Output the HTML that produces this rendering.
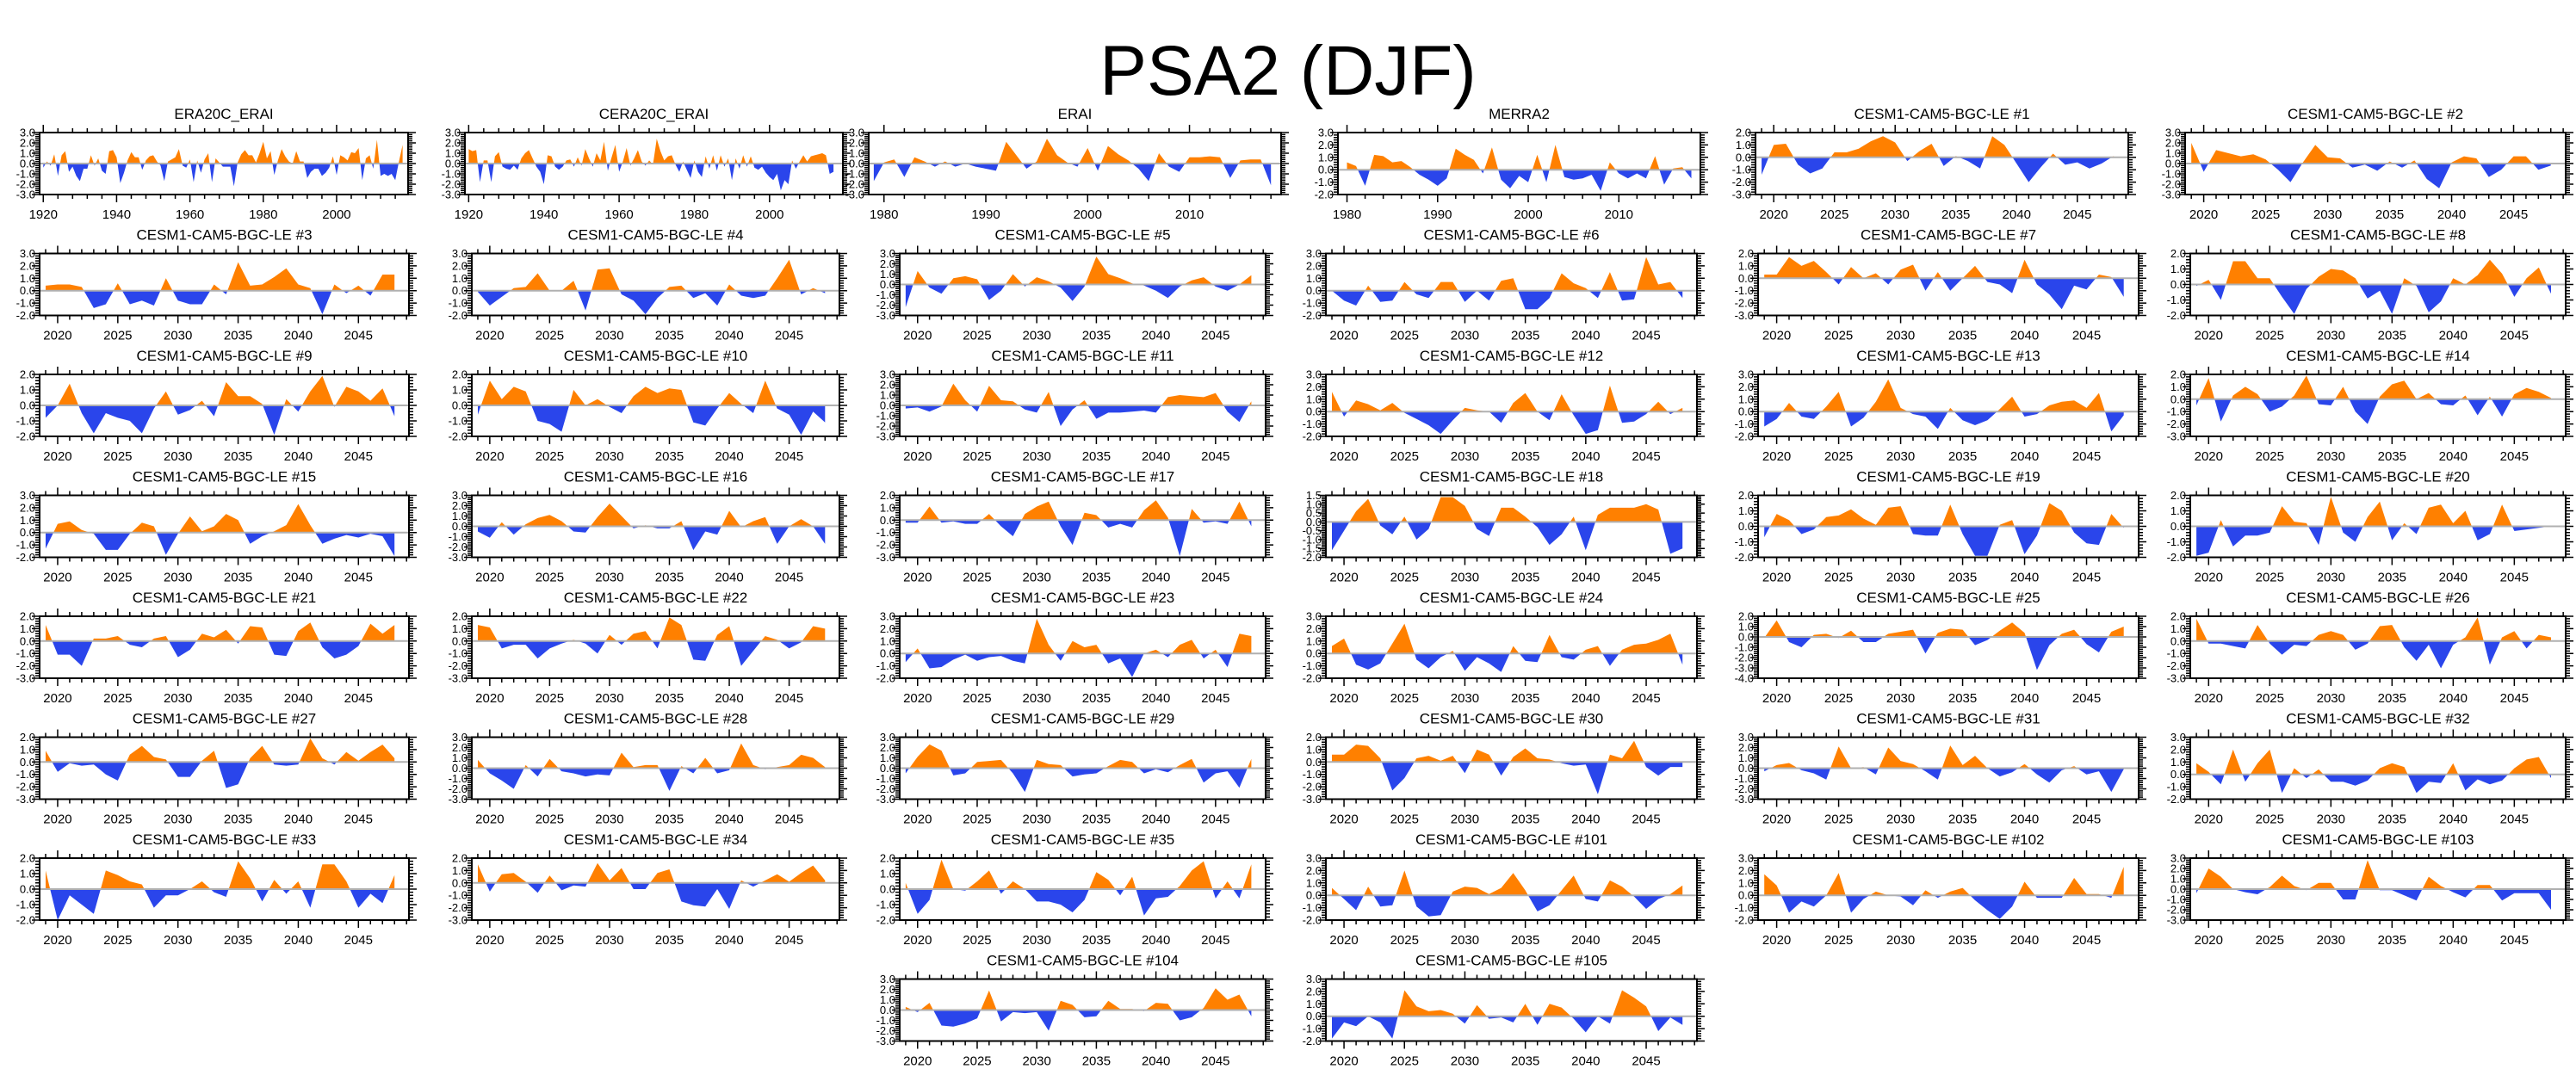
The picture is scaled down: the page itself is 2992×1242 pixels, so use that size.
<!DOCTYPE html>
<html><head><meta charset="utf-8"><title>PSA2 (DJF)</title>
<style>
html,body{margin:0;padding:0;background:#fff;}
#wrap{position:relative;width:2992px;height:1242px;overflow:hidden;font-family:"Liberation Sans",Arial,sans-serif;}
#main-title{position:absolute;left:0;width:2992px;top:38px;text-align:center;font-size:82px;line-height:90px;color:#000;}
svg{position:absolute;left:0;top:0;}
</style></head>
<body>
<div id="wrap">
<div id="main-title">PSA2 (DJF)</div>
<svg id="chart" width="2992" height="1242" xmlns="http://www.w3.org/2000/svg"></svg>
</div>
<script>
// ---- data ----
const panelTitles = ["ERA20C_ERAI","CERA20C_ERAI","ERAI","MERRA2","CESM1-CAM5-BGC-LE #1","CESM1-CAM5-BGC-LE #2",
"CESM1-CAM5-BGC-LE #3","CESM1-CAM5-BGC-LE #4","CESM1-CAM5-BGC-LE #5","CESM1-CAM5-BGC-LE #6","CESM1-CAM5-BGC-LE #7","CESM1-CAM5-BGC-LE #8",
"CESM1-CAM5-BGC-LE #9","CESM1-CAM5-BGC-LE #10","CESM1-CAM5-BGC-LE #11","CESM1-CAM5-BGC-LE #12","CESM1-CAM5-BGC-LE #13","CESM1-CAM5-BGC-LE #14",
"CESM1-CAM5-BGC-LE #15","CESM1-CAM5-BGC-LE #16","CESM1-CAM5-BGC-LE #17","CESM1-CAM5-BGC-LE #18","CESM1-CAM5-BGC-LE #19","CESM1-CAM5-BGC-LE #20",
"CESM1-CAM5-BGC-LE #21","CESM1-CAM5-BGC-LE #22","CESM1-CAM5-BGC-LE #23","CESM1-CAM5-BGC-LE #24","CESM1-CAM5-BGC-LE #25","CESM1-CAM5-BGC-LE #26",
"CESM1-CAM5-BGC-LE #27","CESM1-CAM5-BGC-LE #28","CESM1-CAM5-BGC-LE #29","CESM1-CAM5-BGC-LE #30","CESM1-CAM5-BGC-LE #31","CESM1-CAM5-BGC-LE #32",
"CESM1-CAM5-BGC-LE #33","CESM1-CAM5-BGC-LE #34","CESM1-CAM5-BGC-LE #35","CESM1-CAM5-BGC-LE #101","CESM1-CAM5-BGC-LE #102","CESM1-CAM5-BGC-LE #103",
"CESM1-CAM5-BGC-LE #104","CESM1-CAM5-BGC-LE #105"];
const startYears = [1920,1920,1979,1980,2019,2019,2019,2019,2019,2019,2019,2019,2019,2019,2019,2019,2019,2019,2019,2019,2019,2019,2019,2019,2019,2019,2019,2019,2019,2019,2019,2019,2019,2019,2019,2019,2019,2019,2019,2019,2019,2019,2019,2019];
const yMins = [-3,-3,-3,-2,-3,-3, -2,-2,-3,-2,-3,-2, -2,-2,-3,-2,-2,-3, -2,-3,-3,-2,-2,-2, -3,-3,-2,-2,-4,-3, -3,-3,-3,-3,-3,-2, -2,-3,-2,-2,-2,-3, -3,-2];
const yMaxs = [3,3,3,3,2,3, 3,3,3,3,2,2, 2,2,3,3,3,2, 3,3,2,1.5,2,2, 2,2,3,3,2,2, 2,3,3,2,3,3, 2,2,2,3,3,3, 3,3];

const era20c = [-0.4,0.2,-0.2,0.9,-1.2,0.8,1.2,-0.8,-0.3,-1.2,-1.7,-0.5,-0.5,0.8,-0.2,0.5,-0.7,-1.0,1.2,1.3,0.6,-1.9,-0.9,0.3,1.1,0.6,0.6,-0.6,0.3,0.7,0.8,0.2,-0.2,-1.7,0.2,0.4,0.6,1.4,-0.2,-0.4,0.4,-1.8,0.3,-0.9,0.4,1.0,-1.8,0.5,0.1,-0.3,-0.3,-0.3,-2.2,0.1,0.9,1.3,0.8,0.8,0.1,1.0,2.1,0.5,1.2,-1.1,0.3,1.4,0.7,0.2,0.0,1.2,0.2,0.2,-1.4,-0.8,-0.5,-0.5,-1.2,-0.9,-0.4,0.7,-1.1,0.8,0.6,0.3,1.1,1.0,1.5,-1.6,0.5,0.8,-0.5,2.3,-1.2,-1.0,-1.2,-1.0,-1.6,0.2,1.8];
const cera20c = [1.4,1.2,1.3,-1.8,0.3,0.3,-1.8,0.7,1.1,-0.3,-0.5,-0.6,-0.2,-0.6,0.5,1.0,1.3,0.5,-0.3,-0.8,-2.0,0.8,0.7,-0.3,-0.6,-0.3,0.3,0.4,-0.3,0.6,-0.2,1.4,0.5,-0.3,1.0,0.3,2.1,-0.7,0.6,1.8,-0.8,0.2,1.5,-0.2,0.5,1.3,0.2,-0.2,0.3,-0.1,2.4,1.2,0.3,0.7,0.8,-0.1,-0.8,0.2,-0.6,-1.4,0.3,-0.8,-1.3,0.7,-0.5,0.8,-0.7,0.8,-0.3,0.5,-1.6,0.5,-0.5,0.8,-0.3,0.7,-0.4,-0.6,-0.3,-0.9,-1.3,-1.6,-1.0,-2.6,-1.6,-2.0,0.3,-0.5,0.2,0.8,0.2,0.7,0.8,0.9,1.0,0.8,-1.0,-0.8];
const erai = [-1.7,0.1,0.4,-1.3,0.6,0.2,-0.3,0.2,-0.3,0.0,-0.3,-0.5,-0.7,2.1,0.8,-0.5,0.2,2.4,0.8,0.1,-0.3,1.5,-0.7,1.7,0.9,0.3,-0.5,-1.7,1.0,-0.3,-0.8,0.6,0.6,0.7,0.6,-1.4,0.3,0.4,0.4,-2.1];
const merra2 = [0.6,0.3,-1.3,1.2,1.1,0.6,0.7,0.2,-0.4,-0.8,-1.3,-0.7,1.7,1.2,0.8,-0.3,1.8,-0.8,-1.5,-0.5,-1.0,1.2,-1.0,2.0,-0.6,-0.8,-0.7,-0.4,-1.7,0.6,-0.3,-0.7,-0.3,-0.7,1.1,-1.2,0.1,0.2,-0.7];
const m1 = [-1.4,1.0,1.1,-0.6,-1.3,-0.9,0.4,0.4,0.7,1.3,1.7,1.2,-0.3,0.5,1.1,-0.7,0.1,-0.3,-0.9,1.7,1.0,-0.5,-2.0,-0.8,0.3,-0.6,-0.4,-0.9,-0.5,0.1];
const m2 = [2.0,-0.8,1.3,1.0,0.7,0.9,0.4,-0.6,-1.8,0.1,1.8,0.6,0.5,-0.4,-0.1,-0.7,0.2,-0.4,0.3,-1.5,-2.4,0.1,0.7,0.5,-1.3,-0.6,0.7,0.7,-0.6,-0.2];
const m3 = [0.4,0.5,0.5,0.3,-1.4,-1.1,0.6,-1.1,-0.8,-1.2,1.0,-0.8,-1.1,-1.1,0.5,-0.3,2.3,0.4,0.5,1.1,1.8,0.5,0.2,-1.9,0.5,-0.2,0.4,-0.4,1.3,1.3];
const m4 = [-0.1,-1.2,-0.5,0.2,0.3,1.4,0.0,0.0,0.8,-1.6,1.7,1.8,-0.3,-0.8,-1.9,-0.6,0.3,0.4,-0.6,-0.2,-1.2,0.5,-0.4,-0.6,-0.4,1.0,2.5,-0.3,0.2,-0.2];
const m5 = [-2.2,1.3,-0.3,-0.9,0.6,0.8,0.5,-1.5,-0.6,1.0,-0.2,0.7,0.3,-0.3,-1.6,-0.2,2.7,1.0,0.6,0.1,-0.1,-0.6,-1.3,-0.2,0.4,0.7,-0.2,-0.6,0.0,0.9];
const m6 = [0.0,-0.8,-1.2,0.4,-0.9,-0.8,0.7,-0.3,-0.6,0.7,0.7,-0.9,0.0,-0.8,0.8,1.0,-1.5,-1.5,-0.6,1.4,0.6,0.2,-0.6,1.5,-0.8,-0.7,2.7,0.5,0.7,-0.6];
const m7 = [0.3,0.3,1.7,1.0,1.4,0.5,-0.5,0.9,0.0,0.4,-0.5,0.7,1.1,-1.0,0.5,-1.0,0.0,1.0,-0.3,-0.5,-1.2,1.5,-0.5,-1.3,-2.5,-0.6,-0.9,0.3,0.1,-1.5];
const m8 = [-0.1,0.3,-1.0,1.5,1.5,0.4,0.4,-0.8,-1.9,-0.3,0.5,1.0,0.9,0.4,-0.9,-0.4,-1.9,0.4,-0.1,-1.8,-1.1,0.4,0.0,0.6,1.6,0.7,-0.8,0.4,1.1,-0.6];
const m9 = [-0.8,0.0,1.4,-0.5,-1.8,-0.5,-0.8,-1.0,-1.8,-0.2,0.9,-0.6,-0.3,0.3,-0.7,1.5,0.6,0.6,0.1,-1.9,0.4,-0.4,0.9,1.9,-0.1,1.2,0.9,0.3,1.1,-0.7];
const m10 = [-0.6,1.6,0.4,1.2,0.9,-1.0,-1.2,-1.7,1.0,0.0,0.4,-0.1,-0.5,0.6,1.2,0.8,1.1,1.0,-1.1,-1.3,-0.2,0.8,0.1,-0.5,1.6,-0.2,-0.6,-1.9,-0.4,-1.1];
const m11 = [-0.3,-0.2,-0.6,-0.1,2.1,0.5,-0.6,1.9,0.5,0.4,-0.4,-0.7,1.3,-2.0,-0.4,0.5,-1.3,-0.7,-0.7,-0.6,-0.5,-0.7,0.8,1.0,0.9,0.8,1.2,-0.6,-1.6,0.4];
const m12 = [1.6,-0.4,0.9,0.6,0.1,0.7,-0.1,-0.6,-1.1,-1.8,-0.7,0.3,0.1,0.0,-0.9,0.7,1.5,0.0,-0.7,1.4,-0.3,-1.8,-1.5,2.1,-0.9,-0.8,-0.2,0.8,-0.2,0.3];
const m13 = [-1.2,-0.6,0.7,-0.4,-0.6,0.4,1.6,-1.2,-0.5,0.8,2.6,0.3,-0.2,-0.4,-1.4,0.3,-0.7,-1.1,-0.7,0.2,1.2,-0.4,-0.2,0.5,0.8,0.9,0.3,1.5,-1.6,-0.3];
const m14 = [-0.5,1.7,-1.8,0.3,1.0,0.4,-1.0,-0.6,0.3,1.9,-0.4,-0.5,1.0,-1.0,-2.0,0.2,1.2,1.5,0.0,0.5,-0.4,-0.5,0.3,-1.3,0.2,-1.4,0.4,0.9,0.6,0.1];
const m15 = [-1.3,0.7,0.9,0.2,-0.1,-1.4,-1.4,-0.1,0.8,0.5,-1.8,-0.1,1.3,0.1,0.5,1.5,1.0,-0.9,-0.3,0.1,0.6,2.3,0.6,-0.9,-0.5,-0.2,-0.4,-0.1,-0.3,-1.9];
const m16 = [-0.5,-1.1,0.4,-0.8,0.2,0.8,1.1,0.5,-0.5,-0.6,0.9,2.2,1.0,-0.2,0.1,-0.2,-0.2,0.5,-2.3,-0.5,-0.8,1.5,-0.1,0.5,0.9,-1.7,0.0,0.7,0.0,-1.7];
const m17 = [-0.2,-0.2,1.1,-0.2,-0.1,-0.3,-0.3,0.5,-0.5,-1.3,0.5,1.1,1.5,-0.5,-2.0,0.6,0.4,-0.6,-0.3,-0.6,0.8,1.6,0.2,-2.9,0.9,-0.2,-0.1,-0.3,1.5,-0.5];
const m18 = [-1.6,-0.5,0.6,1.3,-0.2,-0.7,0.3,-1.0,-0.4,1.4,1.4,0.9,-0.4,-0.8,0.8,0.8,0.3,-0.3,-1.3,-0.7,0.3,-1.6,0.4,0.8,0.8,0.8,1.0,0.7,-1.8,-1.5];
const m19 = [-0.7,0.8,0.4,-0.5,-0.2,0.6,0.7,1.1,0.5,0.1,1.2,1.3,-0.5,-0.6,-0.6,1.4,-0.5,-1.9,-1.9,0.1,0.4,-1.8,-0.6,1.5,1.0,-0.4,-1.1,-1.2,0.8,-0.1];
const m20 = [-1.9,-1.7,0.4,-1.3,-0.6,-0.6,-0.4,1.3,0.3,0.2,-1.2,1.9,-0.4,-1.0,0.6,1.6,-0.9,0.2,-0.5,1.2,1.4,0.2,1.0,-0.9,-0.5,1.4,-0.3,-0.2,-0.1,0.0];
const m21 = [1.3,-1.1,-1.1,-2.0,0.2,0.2,0.4,-0.3,-0.5,0.2,0.4,-1.3,-0.7,0.6,0.3,0.9,-0.2,1.2,1.1,-1.1,-1.2,0.8,1.5,-0.5,-1.4,-1.1,-0.4,1.4,0.6,1.3];
const m22 = [1.3,1.1,-0.6,-0.3,-0.3,-1.4,-0.6,-0.2,0.1,-0.2,-1.0,0.5,-0.3,0.6,0.8,-0.6,1.9,1.3,-1.5,-1.6,0.5,1.2,-2.0,-0.8,0.4,0.1,-0.6,-0.1,1.2,1.0];
const m23 = [-0.7,0.4,-1.2,-1.1,-0.5,-0.1,-0.6,-0.3,-0.2,-0.6,-0.8,2.8,0.7,-0.6,1.0,0.5,0.7,-0.8,-0.4,-1.9,0.0,0.3,-0.3,0.7,1.1,-0.4,0.3,-1.1,1.6,1.4];
const m24 = [0.6,1.2,-0.9,-1.3,-0.8,0.8,2.4,-0.5,-1.2,-0.3,0.2,-1.4,-0.3,-0.8,-1.5,0.6,-0.6,-0.7,1.5,-0.3,-0.5,0.3,0.6,-1.0,0.3,0.7,0.8,1.1,1.6,-0.9];
const m25 = [-0.1,1.6,-0.5,-1.0,0.2,0.3,-0.1,0.6,-0.5,-0.5,0.3,0.5,0.7,-1.6,0.4,0.8,0.7,-0.8,-0.3,0.6,1.4,0.4,-3.2,-0.8,0.3,0.7,-0.7,-1.5,0.5,1.0];
const m26 = [1.8,-0.2,-0.2,-0.4,-0.6,1.3,-0.2,-1.1,-0.3,-0.4,0.5,0.8,0.5,-0.7,-0.2,1.2,1.3,-0.5,-1.6,-0.3,-2.2,-0.3,0.3,1.9,-1.9,0.3,0.8,-0.6,0.5,0.3];
const m27 = [0.9,-0.8,-0.1,-0.3,-0.2,-1.0,-1.5,0.6,1.3,0.4,0.2,-1.2,-1.2,0.1,0.9,-2.1,-1.8,0.3,1.3,-0.2,-0.3,-0.2,1.9,0.3,-0.2,0.8,0.1,0.8,1.4,0.3];
const m28 = [0.8,-0.5,-1.2,-2.0,0.3,-0.8,0.9,-0.3,-0.5,-0.8,-0.6,-0.7,1.5,0.1,0.3,0.3,-2.2,0.2,-0.5,1.0,-0.5,-0.2,2.4,0.3,-0.1,0.1,0.3,1.3,1.0,0.1];
const m29 = [-0.5,1.1,2.3,1.7,-0.7,-0.5,0.6,0.7,0.8,-0.5,-2.3,0.8,0.4,0.3,-0.8,-0.6,-0.5,0.2,0.8,0.6,-0.5,-0.1,-0.4,0.3,0.9,-1.4,-0.5,-0.3,-1.9,0.9];
const m30 = [0.6,0.6,1.4,1.3,0.3,-2.3,-1.3,0.3,0.5,0.1,0.5,-0.9,1.0,0.6,-1.1,0.4,1.1,0.3,0.2,-0.1,-0.3,-0.2,-2.6,0.6,0.3,1.7,-0.4,-1.1,-0.4,-0.4];
const m31 = [-0.3,0.3,0.5,-0.2,-0.5,-1.1,2.1,0.0,0.1,-0.6,2.0,0.7,0.4,-0.3,-1.1,2.2,0.3,1.2,0.0,-0.8,-0.4,0.4,-0.6,-1.4,-0.2,0.2,-0.6,-0.3,-2.3,-0.1];
const m32 = [0.9,0.2,-0.8,2.0,-0.6,0.9,2.0,-1.5,0.5,-0.3,0.4,-0.6,-0.6,-0.9,-0.5,0.5,0.9,0.6,-1.5,-0.6,-0.7,0.9,-1.3,-0.4,-0.8,-0.5,0.5,1.2,1.4,-0.3];
const m33 = [1.2,-2.0,-0.4,-1.0,-1.6,1.2,0.9,0.5,0.3,-1.2,-0.4,-0.4,0.0,0.5,-0.2,-0.5,1.8,0.7,-0.8,0.6,-0.3,0.5,-1.2,1.6,1.6,0.5,-1.2,-0.3,-0.9,0.9];
const m34 = [1.5,-0.7,0.7,0.8,0.1,-0.8,0.6,-0.6,-0.2,-0.3,1.6,0.2,1.2,-0.5,-0.5,0.8,1.1,-1.5,-1.8,-1.9,-0.5,-2.1,0.2,-0.3,0.2,0.7,0.1,0.8,1.4,0.2];
const m35 = [0.4,-1.6,-0.7,1.9,0.0,-0.1,0.5,1.2,-0.3,0.5,0.0,-0.8,-0.8,-1.0,-1.5,-0.7,1.1,0.6,-0.4,0.8,-1.7,-0.6,-0.5,0.2,1.2,1.8,-0.6,0.5,-0.6,1.6];
const m101 = [0.6,-0.3,-1.2,0.7,-0.9,-0.8,2.0,-0.9,-1.7,-1.6,0.3,0.7,0.6,0.1,0.6,1.8,0.4,-1.3,-0.8,0.4,1.6,-0.3,-0.5,1.2,0.7,-0.1,-1.1,-0.3,0.1,0.8];
const m102 = [1.7,0.8,-1.4,-0.5,-0.9,0.0,1.8,-1.4,-0.3,0.3,0.0,-0.1,-0.8,0.4,-0.2,0.3,0.6,-0.4,-1.2,-1.9,-0.9,1.1,-0.2,-0.2,-0.2,1.4,0.1,0.1,-0.2,2.3];
const m103 = [-0.4,2.0,1.2,0.0,-0.3,-0.5,0.2,1.3,0.3,-0.1,0.6,0.6,-1.0,-1.0,2.8,-0.1,-0.1,-0.6,-1.1,1.2,0.3,-0.3,-0.8,0.4,0.4,-1.1,-0.4,-0.4,-0.4,-2.0];
const m104 = [0.3,-0.2,0.7,-1.5,-1.6,-1.3,-0.8,1.9,-1.1,-0.2,-0.3,-0.2,-2.0,0.9,0.5,-0.7,-0.6,0.9,0.1,0.1,-0.1,0.7,0.6,-1.0,-0.7,0.2,2.1,1.0,1.5,-0.6];
const m105 = [-1.8,-0.5,-0.8,0.0,-0.5,-1.8,2.1,0.8,0.4,0.5,0.2,-0.6,0.9,-0.2,-0.1,-0.5,1.0,-0.7,1.0,0.7,-0.2,-1.3,0.0,-0.6,2.1,1.5,0.8,-1.2,-0.1,-0.7];

const seriesList = [era20c,cera20c,erai,merra2,m1,m2,m3,m4,m5,m6,m7,m8,m9,m10,m11,m12,m13,m14,m15,m16,m17,m18,m19,m20,m21,m22,m23,m24,m25,m26,m27,m28,m29,m30,m31,m32,m33,m34,m35,m101,m102,m103,m104,m105];

// ---- layout (not data) ----
const row1Cols = [[46,474],[540,979],[1009,1488],[1554,1975],[2039,2472],[2538,2980]];
const gridCols = [[46,475],[548,975],[1045,1470],[1540,1971],[2042,2484],[2544,2980]];
const xDom = [[1919,2019.5],[1919,2019.5],[1978.5,2019],[1979,2019],null];
const NS = "http://www.w3.org/2000/svg";
const svg = document.getElementById('chart');
function mk(tag, attrs, parent){const e=document.createElementNS(NS,tag);for(const k in attrs)e.setAttribute(k,attrs[k]);(parent||svg).appendChild(e);return e;}

for(let p=0;p<seriesList.length;p++){
  let row, col;
  if(p<42){row=Math.floor(p/6);col=p%6;} else {row=7;col=p===42?2:3;}
  const cx = row===0?row1Cols[col]:gridCols[col];
  const L=cx[0], R=cx[1];
  const T=154+row*140.5, B=T+72;
  const data=seriesList[p];
  const y0=startYears[p];
  const dom = p<4?xDom[p]:[2018.5,2049.2];
  const ymin=yMins[p], ymax=yMaxs[p];
  const xS=v=>L+(v-dom[0])/(dom[1]-dom[0])*(R-L);
  const yS=v=>B-(v-ymin)/(ymax-ymin)*(B-T);

  const g=mk('g',{});
  
  

  const title=mk('text',{x:(L+R)/2,y:T-16,'text-anchor':'middle','font-size':'17','font-family':'Liberation Sans, Arial, sans-serif',fill:'#000'},g);
  title.textContent=panelTitles[p];
  
  

  const pts=[];
  for(let i=0;i<data.length;i++){
    const xv=y0+i, v=data[i];
    if(i>0){const pv=data[i-1];if((pv>0&&v<0)||(pv<0&&v>0)){const t=pv/(pv-v);pts.push([xv-1+t,0]);}}
    pts.push([xv,v]);
  }
  const zy=yS(0);
  function poly(sign){
    let d='M'+xS(pts[0][0]).toFixed(1)+','+zy.toFixed(1);
    for(const q of pts){const v=sign>0?Math.max(q[1],0):Math.min(q[1],0);d+='L'+xS(q[0]).toFixed(1)+','+yS(v).toFixed(1);}
    d+='L'+xS(pts[pts.length-1][0]).toFixed(1)+','+zy.toFixed(1)+'Z';return d;
  }
  const pos=mk('path',{d:poly(1),fill:'#ff8000',stroke:'none'},g);
  
  
  const neg=mk('path',{d:poly(-1),fill:'#2a45eb',stroke:'none'},g);
  
  
  const zl=mk('line',{x1:L,x2:R,y1:zy,y2:zy,stroke:'#b0b0b0','stroke-width':'2'},g);
  
  

  let tk='';
  const yStep = (ymax-ymin)<=3.6?0.5:1;
  const nMaj=Math.round((ymax-ymin)/yStep);
  for(let k=0;k<=nMaj;k++){
    const v=ymin+k*yStep, yy=yS(v);
    tk+=`M${L},${yy}h-9M${R},${yy}h9`;
    const lab=mk('text',{x:L-5,y:yy+4.5,'text-anchor':'end','font-size':'13','font-family':'Liberation Sans, Arial, sans-serif',fill:'#000'},g);
    lab.textContent=v.toFixed(1);
    
    
    if(k<nMaj){for(let m=1;m<5;m++){const ym=yS(v+m*yStep/5);tk+=`M${L},${ym}h-5M${R},${ym}h5`;}}
  }
  let major, minor;
  if(p<2){major=20;minor=4;} else if(p<4){major=10;minor=2;} else {major=5;minor=1;}
  for(let yr=Math.ceil(dom[0]);yr<=dom[1];yr++){
    const xx=xS(yr);
    if(yr%major===0){
      tk+=`M${xx},${B}v9M${xx},${T}v-9`;
      const lab=mk('text',{x:xx,y:B+28,'text-anchor':'middle','font-size':'15','font-family':'Liberation Sans, Arial, sans-serif',fill:'#000'},g);
      lab.textContent=String(yr);
      
      
    } else if(yr%minor===0){tk+=`M${xx},${B}v5M${xx},${T}v-5`;}
  }
  const ticks=mk('path',{d:tk,stroke:'#000','stroke-width':'1.5',fill:'none'},g);
  
  
  const box=mk('rect',{x:L,y:T,width:R-L,height:B-T,fill:'none',stroke:'#000','stroke-width':'2'},g);
  
  
}
</script>
</body></html>
